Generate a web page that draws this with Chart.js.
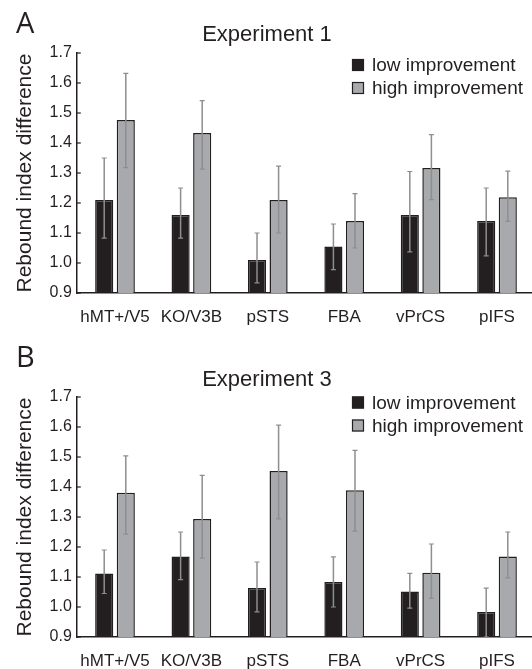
<!DOCTYPE html>
<html>
<head>
<meta charset="utf-8">
<script src="https://cdn.jsdelivr.net/npm/chart.js@4.4.1/dist/chart.umd.min.js"></script>
<style>
  html, body { margin: 0; padding: 0; background: #fff; overflow: hidden; }
  .panel { position: absolute; left: 0; width: 540px; height: 333px; }
  #panel-a { top: 0; }
  #panel-b { top: 344px; }
</style>
</head>
<body>
<div class="panel" id="panel-a"><canvas id="chart-a"></canvas></div>
<div class="panel" id="panel-b"><canvas id="chart-b"></canvas></div>
<script>
const REGIONS = ['hMT+/V5', 'KO/V3B', 'pSTS', 'FBA', 'vPrCS', 'pIFS'];
const Y_TICKS = [0.9, 1.0, 1.1, 1.2, 1.3, 1.4, 1.5, 1.6, 1.7];

// Experiment 1
const exp1Low = [1.21, 1.16, 1.01, 1.055, 1.16, 1.14];
const exp1LowUp = [1.35, 1.25, 1.10, 1.13, 1.305, 1.25];
const exp1LowDn = [1.083, 1.083, 0.934, 0.978, 1.037, 1.024];
const exp1High = [1.477, 1.433, 1.21, 1.14, 1.317, 1.219];
const exp1HighUp = [1.632, 1.541, 1.323, 1.231, 1.428, 1.306];
const exp1HighDn = [1.318, 1.313, 1.10, 1.05, 1.211, 1.139];

// Experiment 3
const exp3Low = [1.112, 1.168, 1.063, 1.083, 1.052, 0.983];
const exp3LowUp = [1.19, 1.25, 1.15, 1.167, 1.112, 1.063];
const exp3LowDn = [1.045, 1.091, 0.984, 1.0, 0.996, 0.9];
const exp3High = [1.381, 1.293, 1.453, 1.389, 1.114, 1.168];
const exp3HighUp = [1.504, 1.439, 1.606, 1.522, 1.21, 1.25];
const exp3HighDn = [1.243, 1.163, 1.294, 1.253, 1.029, 1.097];

const INK = '#231f20';
const LOW_COLOR = '#231f20';
const HIGH_COLOR = '#a7a9ac';
const ERR_COLOR = '#8e8e8e';
const FONT = '"Liberation Sans", Arial, sans-serif';

const errorBars = {
  id: 'errorBars',
  afterDatasetsDraw(chart) {
    const ctx = chart.ctx;
    const y = chart.scales.y;
    ctx.save();
    ctx.strokeStyle = ERR_COLOR;
    chart.data.datasets.forEach((ds, di) => {
      chart.getDatasetMeta(di).data.forEach((bar, i) => {
        const top = y.getPixelForValue(ds.errUp[i]);
        const bot = y.getPixelForValue(ds.errDn[i]);
        ctx.lineWidth = 1.5;
        ctx.beginPath();
        ctx.moveTo(bar.x, top);
        ctx.lineTo(bar.x, bot);
        ctx.stroke();
        ctx.lineWidth = 1.2;
        ctx.beginPath();
        ctx.moveTo(bar.x - 2.5, top);
        ctx.lineTo(bar.x + 2.5, top);
        ctx.moveTo(bar.x - 2.5, bot);
        ctx.lineTo(bar.x + 2.5, bot);
        ctx.stroke();
      });
    });
    ctx.restore();
  }
};

// inward tick marks on the y axis
const innerTicks = {
  id: 'innerTicks',
  afterDraw(chart) {
    const ctx = chart.ctx;
    const y = chart.scales.y;
    const x0 = chart.chartArea.left;
    ctx.save();
    ctx.strokeStyle = INK;
    ctx.lineWidth = 1.2;
    y.ticks.forEach(t => {
      const py = y.getPixelForValue(t.value);
      ctx.beginPath();
      ctx.moveTo(x0, py);
      ctx.lineTo(x0 + 4, py);
      ctx.stroke();
    });
    ctx.restore();
  }
};

// panel letter, title and legend
const decor = {
  id: 'decor',
  afterDraw(chart, args, opts) {
    const ctx = chart.ctx;
    ctx.save();
    ctx.fillStyle = INK;
    ctx.textBaseline = 'alphabetic';
    ctx.font = '29px "Open Sans", ' + FONT;
    ctx.textAlign = 'left';
    ctx.fillText(opts.letter, 16, opts.letterY);
    ctx.font = '22px ' + FONT;
    ctx.textAlign = 'center';
    ctx.fillText(opts.title, 267, opts.titleY);
    ctx.font = '19px ' + FONT;
    ctx.textAlign = 'left';
    chart.data.datasets.forEach((ds, i) => {
      const base = opts.legendY + i * 23;
      ctx.fillStyle = ds.backgroundColor;
      ctx.fillRect(352, base - 12, 12, 12);
      ctx.strokeStyle = INK;
      ctx.lineWidth = 1.2;
      ctx.strokeRect(352.5, base - 11.5, 11, 11);
      ctx.fillStyle = INK;
      ctx.fillText(ds.label, 372, base);
    });
    ctx.restore();
  }
};

function makeChart(id, low, lowUp, lowDn, high, highUp, highDn, decorOpts) {
  return new Chart(document.getElementById(id), {
    type: 'bar',
    data: {
      labels: REGIONS,
      datasets: [
        { label: 'low improvement', data: low, errUp: lowUp, errDn: lowDn,
          backgroundColor: LOW_COLOR, borderColor: INK, borderWidth: 1.5 },
        { label: 'high improvement', data: high, errUp: highUp, errDn: highDn,
          backgroundColor: HIGH_COLOR, borderColor: INK, borderWidth: 1.5 }
      ]
    },
    options: {
      responsive: true,
      maintainAspectRatio: false,
      animation: false,
      layout: { padding: { top: 53, right: 4.8, left: 0, bottom: 0 } },
      datasets: { bar: { categoryPercentage: 0.565, barPercentage: 0.84 } },
      plugins: {
        legend: { display: false },
        tooltip: { enabled: false },
        decor: decorOpts
      },
      scales: {
        x: {
          grid: { display: false, drawTicks: false },
          border: { display: true, color: INK, width: 1.5 },
          ticks: { color: INK, font: { family: FONT, size: 17 }, padding: 14, maxRotation: 0, autoSkip: false },
          afterFit: axis => { axis.height = 40; }
        },
        y: {
          min: 0.9,
          max: 1.7,
          afterBuildTicks: axis => { axis.ticks = Y_TICKS.map(v => ({ value: v })); },
          grid: { display: false, drawTicks: false },
          border: { display: true, color: INK, width: 1.5 },
          ticks: { color: INK, font: { family: FONT, size: 16 }, padding: 5,
                   callback: v => Number(v).toFixed(1) },
          title: { display: true, text: 'Rebound index difference', color: INK,
                   font: { family: FONT, size: 21 }, padding: { top: 13, bottom: 0 } },
          afterFit: axis => { axis.width = 76.8; }
        }
      }
    },
    plugins: [errorBars, innerTicks, decor]
  });
}

makeChart('chart-a', exp1Low, exp1LowUp, exp1LowDn, exp1High, exp1HighUp, exp1HighDn,
  { letter: 'A', letterY: 33, title: 'Experiment 1', titleY: 41, legendY: 71 });
makeChart('chart-b', exp3Low, exp3LowUp, exp3LowDn, exp3High, exp3HighUp, exp3HighDn,
  { letter: 'B', letterY: 23, title: 'Experiment 3', titleY: 42, legendY: 64.5 });
</script>
</body>
</html>
